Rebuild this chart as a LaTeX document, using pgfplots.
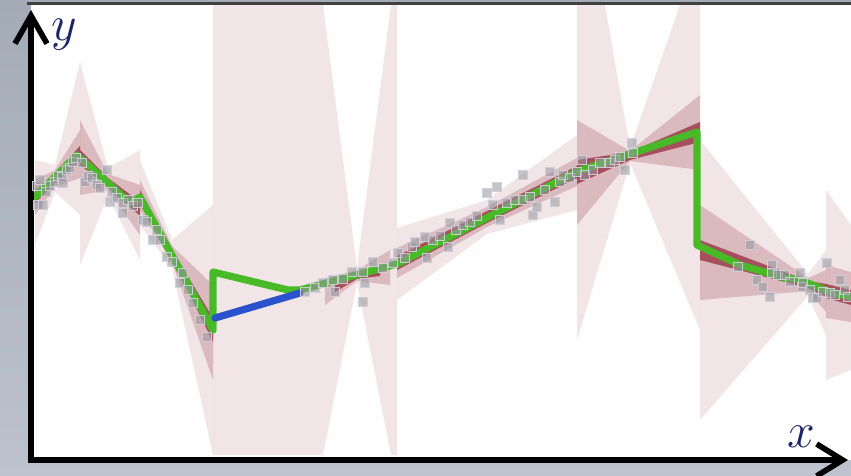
\documentclass[border=0pt]{standalone}
\usepackage{pgfplots}
\pgfplotsset{compat=1.18}
\usetikzlibrary{arrows.meta}
\definecolor{bgtop}{RGB}{163,171,183}
\definecolor{bgbot}{RGB}{188,195,206}
\definecolor{dens}{RGB}{135,15,35}
\definecolor{fitgreen}{RGB}{72,186,40}
\definecolor{fitblue}{RGB}{42,82,205}
\definecolor{labnavy}{RGB}{28,36,105}
\definecolor{ptfill}{RGB}{150,150,160}
\definecolor{ptdraw}{RGB}{210,210,218}
\begin{document}
\begin{tikzpicture}
\begin{axis}[
  width=425.5pt, height=238pt, scale only axis,
  xmin=0, xmax=851, ymin=0, ymax=476, y dir=reverse,
  hide axis, clip=false,
  l1/.style={fill=dens, draw=none, fill opacity=0.10},
  l2/.style={fill=dens, draw=none, fill opacity=0.20},
  l3/.style={fill=dens, draw=none, fill opacity=0.62},
]
\shade[top color=bgtop, bottom color=bgbot] (axis cs:0,0) rectangle (axis cs:851,476);
\fill[white!99!gray] (axis cs:31,4) rectangle (axis cs:851,460);
\begin{scope}
\clip (axis cs:33,5) rectangle (axis cs:851,458);
% ---- segment A
\addplot[l1] coordinates {(35,160) (55,165) (80,62) (80,215) (55,192) (35,245)};
\addplot[l2] coordinates {(35,180) (55,170) (80,130) (80,178) (55,187) (35,215)};
\addplot[l3] coordinates {(35,191) (55,173) (80,146) (80,161) (55,183) (35,203)};
% ---- segment B
\addplot[l1] coordinates {(80,62) (108,168) (140,150) (140,260) (108,196) (80,265)};
\addplot[l2] coordinates {(80,120) (108,174) (140,185) (140,235) (108,190) (80,195)};
\addplot[l3] coordinates {(80,150) (108,178) (140,202) (140,216) (108,186) (80,165)};
% ---- segment C
\addplot[l1] coordinates {(140,160) (172,240) (213,205) (213,455) (190,350) (172,268) (140,225)};
\addplot[l2] coordinates {(140,180) (172,246) (213,285) (213,380) (172,262) (140,210)};
\addplot[l3] coordinates {(140,190) (172,250) (213,318) (213,342) (172,258) (140,201)};
% ---- segment D
\addplot[l1] coordinates {(213,5) (323,5) (357,268) (391,5) (397,5) (397,455) (391,455) (357,283) (323,455) (213,455)};
\addplot[l2] coordinates {(325,278) (357,270) (390,250) (390,285) (357,281) (325,305)};
\addplot[l3] coordinates {(335,282) (357,272) (380,265) (380,276) (357,279) (335,292)};
% ---- segment E
\addplot[l1] coordinates {(397,228) (487,200) (577,135) (577,210) (487,234) (397,300)};
\addplot[l2] coordinates {(397,248) (487,207) (577,158) (577,186) (487,227) (397,278)};
\addplot[l3] coordinates {(397,256) (487,211) (577,166) (577,178) (487,223) (397,270)};
% ---- segment F
\addplot[l1] coordinates {(577,5) (605,5) (630,148) (680,5) (700,5) (700,330) (630,163) (577,340)};
\addplot[l2] coordinates {(577,120) (630,151) (700,95) (700,170) (630,161) (577,225)};
\addplot[l3] coordinates {(577,160) (630,152) (700,122) (700,142) (630,160) (577,184)};
% ---- segment G
\addplot[l1] coordinates {(700,140) (808,274) (826,250) (826,335) (808,296) (700,420)};
\addplot[l2] coordinates {(700,205) (808,278) (826,270) (826,312) (808,291) (700,300)};
\addplot[l3] coordinates {(700,240) (808,281) (826,284) (826,297) (808,288) (700,260)};
% ---- segment H
\addplot[l1] coordinates {(826,190) (851,225) (851,370) (826,380)};
\addplot[l2] coordinates {(826,265) (851,272) (851,322) (826,318)};
\addplot[l3] coordinates {(826,284) (851,290) (851,305) (826,298)};
\end{scope}
\draw[line width=1.3pt, black!75] (axis cs:27,3.5) -- (axis cs:851,3.5);
\coordinate (SW) at (axis cs:0,476);
\coordinate (NE) at (axis cs:851,0);

% ---- fitted lines
\addplot[fitgreen, line width=3.6pt, line join=round, line cap=round] coordinates {
 (35,197) (77,155) (130,203) (140,197) (213,330) (213,272) (288,290) (300,290)
 (397,264) (578,171) (697,132) (697,245) (740,265) (785,278) (800,280) (830,292) (851,297)};
\addplot[fitblue, line width=3.6pt, line cap=round] coordinates {(215,318) (300,293)};

% ---- observations
\addplot[only marks, mark=square*, mark size=2.3pt,
  mark options={fill=ptfill, fill opacity=0.55, draw=ptdraw, draw opacity=0.9, line width=0.8pt}] coordinates {
 (37,186) (38,205) (40,180) (43,205) (46,192) (50,186) (55,182) (58,176) (62,177) (63,183)
 (67,170) (70,168) (73,162) (76,158) (82,163) (85,182) (88,176) (92,178) (97,185) (100,188)
 (107,170) (110,202) (112,192) (117,198) (123,213) (123,203) (128,200) (133,206) (138,203)
 (143,220) (147,222) (153,240) (157,230) (160,240) (167,257) (172,262) (180,283) (183,273)
 (188,290) (193,303) (200,320) (207,337)
 (305,292) (315,288) (323,283) (333,280) (335,292) (343,279) (352,272) (363,272) (365,283)
 (363,302) (373,262) (383,268) (393,263)
 (398,253) (405,258) (412,247) (415,242) (425,237) (427,258) (433,240) (440,236) (448,247)
 (450,223) (456,230) (463,225) (470,222) (477,216) (487,193) (493,205) (497,187) (500,220)
 (507,203) (515,200) (523,175) (523,200) (530,197) (533,215) (537,207) (545,190) (550,172)
 (555,202) (560,182) (563,175) (570,178)
 (577,172) (582,160) (585,175) (593,170) (600,163) (610,163) (615,160) (620,157) (625,170)
 (632,143) (633,153)
 (738,267) (750,245) (757,280) (763,287) (770,297) (772,265) (772,273) (778,275) (785,275)
 (790,282) (800,273) (802,287) (803,283) (810,290) (813,298) (817,298) (823,292) (827,263)
 (830,293) (835,295) (840,280) (845,290) (848,297)};

% ---- axes arrows and labels
\draw[line width=2.8pt, -{Straight Barb[length=14pt,width=16pt]}] (axis cs:31,463) -- (axis cs:31,10);
\draw[line width=2.8pt, -{Straight Barb[length=13pt,width=16pt]}] (axis cs:28,460) -- (axis cs:848,460);
\node[text=labnavy, font=\fontsize{26}{30}\selectfont] at (axis cs:64,35) {$y$};
\node[text=labnavy, font=\fontsize{26}{30}\selectfont] at (axis cs:801,437) {$x$};
\end{axis}
\pgfresetboundingbox
\path (SW) rectangle (NE);
\end{tikzpicture}
\end{document}
